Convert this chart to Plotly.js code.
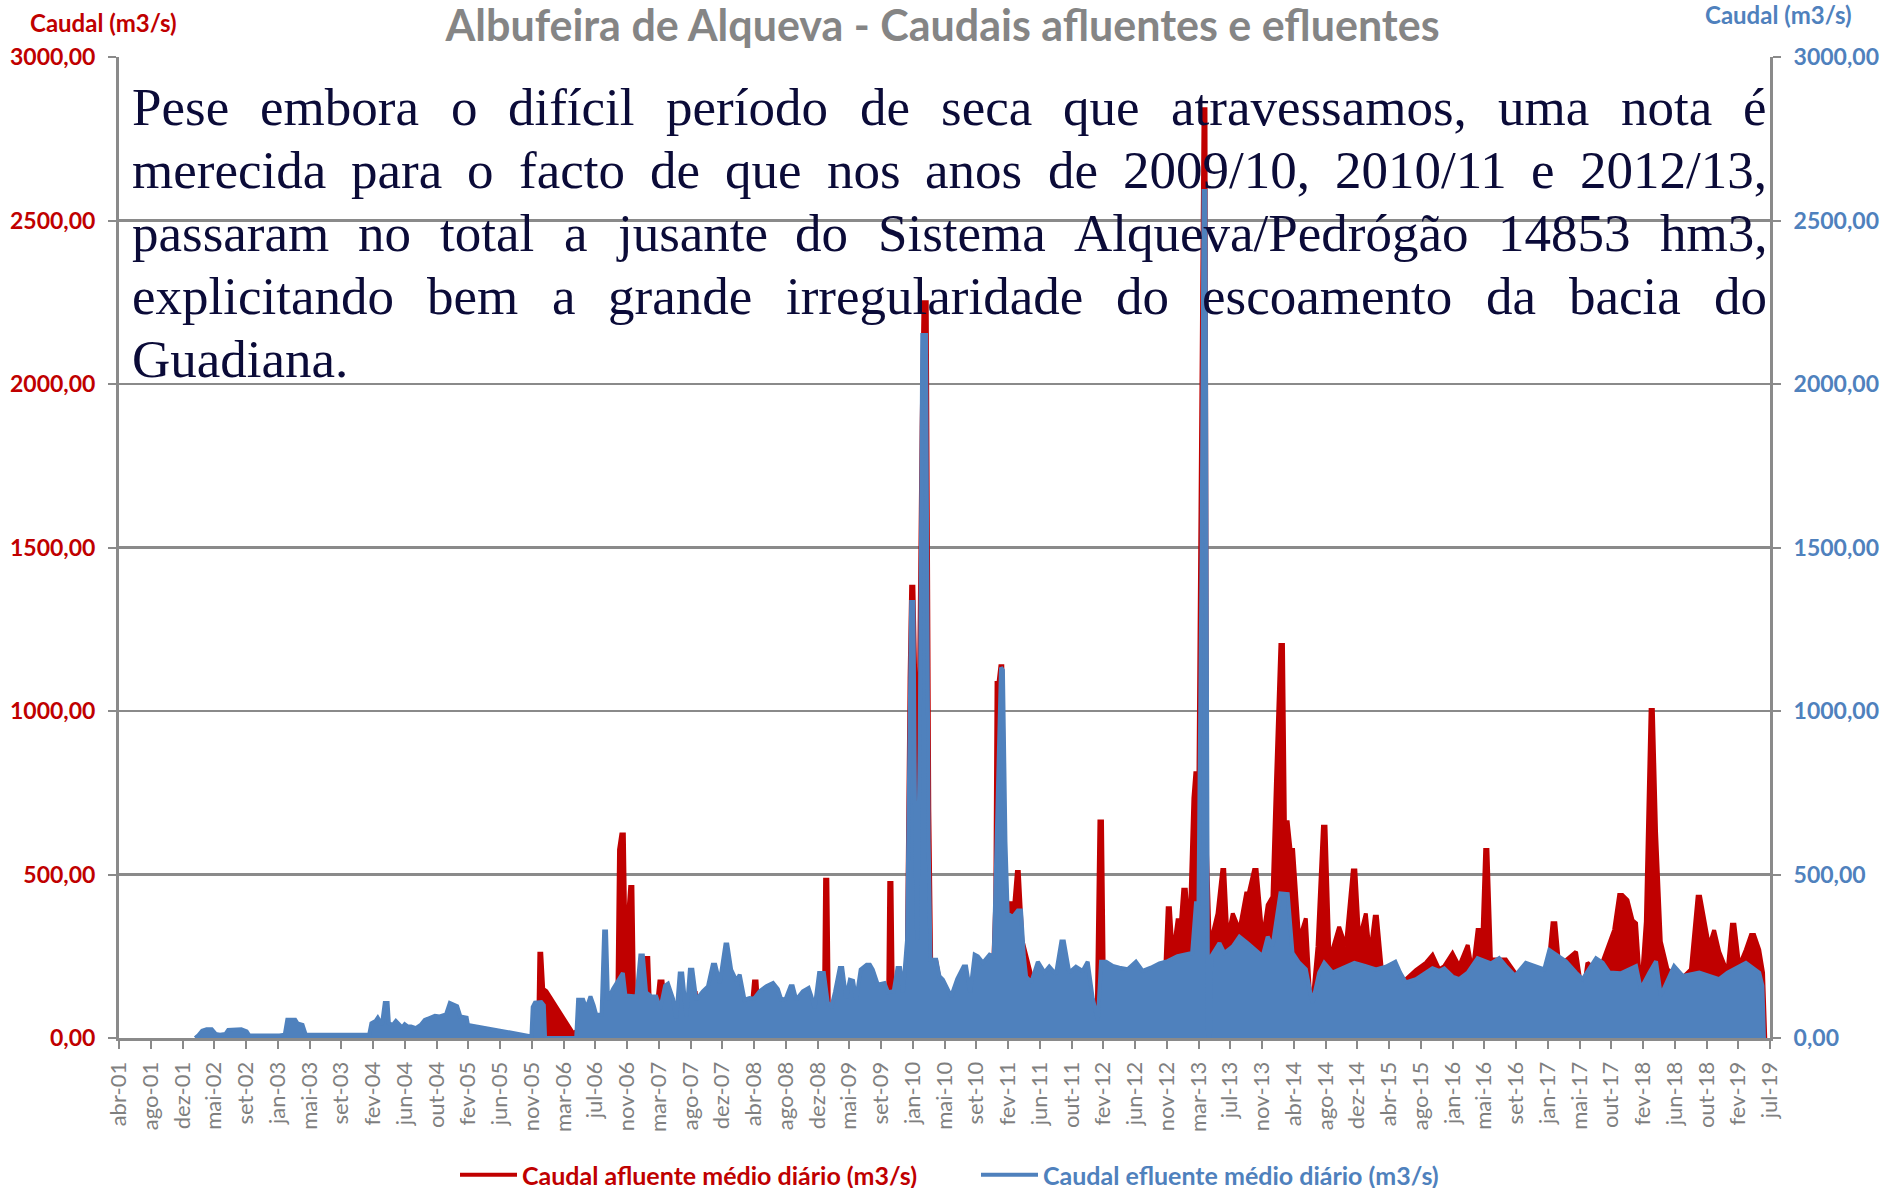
<!DOCTYPE html>
<html><head><meta charset="utf-8">
<script src="https://cdn.plot.ly/plotly-3.0.1.min.js"></script>
<style>html,body{margin:0;padding:0;background:#fff}#chart{width:1885px;height:1188px}</style>
</head><body><div id="chart"></div>
<script>
// Tick labels of the category axis (one label every fixed number of daily records)
const rotulosX = ["abr-01","ago-01","dez-01","mai-02","set-02","jan-03","mai-03","set-03","fev-04","jun-04",
  "out-04","fev-05","jun-05","nov-05","mar-06","jul-06","nov-06","mar-07","ago-07","dez-07",
  "abr-08","ago-08","dez-08","mai-09","set-09","jan-10","mai-10","set-10","fev-11","jun-11",
  "out-11","fev-12","jun-12","nov-12","mar-13","jul-13","nov-13","abr-14","ago-14","dez-14",
  "abr-15","ago-15","jan-16","mai-16","set-16","jan-17","mai-17","out-17","fev-18","jun-18",
  "out-18","fev-19","jul-19"];

// Position along the record axis (in label intervals) and daily inflow (m3/s)
const xAfluente = [
  2.40,2.80,2.90,3.55,3.65,5.45,5.75,5.90,8.10,9.00,
  10.99,12.99,13.20,13.24,13.30,13.36,13.46,14.30,14.60,15.00,
  15.40,15.70,15.75,15.82,15.90,15.95,16.02,16.10,16.17,16.22,
  16.55,16.60,16.67,16.72,16.95,17.02,17.12,17.20,18.10,18.16,
  18.22,19.90,20.00,20.08,20.15,22.20,22.24,22.31,22.36,24.22,
  24.26,24.33,24.38,24.80,24.85,24.90,24.95,25.02,25.10,25.20,
  25.28,25.34,25.44,25.52,25.58,25.74,25.84,26.00,27.50,27.60,
  27.64,27.70,27.76,27.82,27.90,27.99,28.08,28.20,28.28,28.34,
  28.45,28.73,28.90,30.80,30.88,30.96,31.02,32.95,33.03,33.10,
  33.19,33.34,33.45,33.52,33.60,33.71,33.84,33.90,34.00,34.10,
  34.16,34.22,34.27,34.35,34.45,34.60,34.75,34.81,34.90,34.97,
  35.08,35.29,35.50,35.58,35.75,35.83,36.02,36.18,36.33,36.44,
  36.58,36.66,36.72,36.81,36.90,36.98,37.17,37.38,37.50,37.59,
  37.75,37.92,38.00,38.12,38.22,38.43,38.64,38.86,38.94,39.06,
  39.27,39.40,39.55,39.62,39.80,40.20,40.53,40.85,41.16,41.37,
  41.58,41.74,42.00,42.21,42.48,42.63,42.79,42.95,43.03,43.10,
  43.21,43.68,43.97,44.50,45.00,45.15,45.24,45.36,45.89,46.10,
  46.25,46.60,47.09,47.25,47.35,47.51,47.67,47.78,47.93,48.09,
  48.24,48.31,48.41,48.56,48.77,49.20,49.51,49.72,49.80,49.93,
  50.08,50.24,50.40,50.66,50.80,50.88,51.03,51.24,51.40,51.50,
  51.66,51.78,51.82,51.85];
const afluente = [
  0,8,0,8,0,5,5,0,3,3,
  3,3,5,258,258,150,143,15,30,40,
  60,150,576,622,622,300,352,462,462,127,
  120,245,245,100,105,173,173,60,60,143,
  90,60,173,173,60,60,484,484,60,60,
  474,474,60,100,768,1098,1380,1380,1000,1100,
  1868,2250,2250,700,227,235,180,100,120,415,
  1086,1086,1137,1137,500,400,412,412,508,508,
  300,193,150,100,662,662,150,200,397,397,
  250,360,360,453,453,300,733,810,810,2000,
  2840,2840,560,300,320,381,514,514,330,330,
  381,330,442,442,514,514,300,407,432,784,
  1202,1202,660,660,575,575,300,366,150,106,
  280,646,646,260,270,340,280,512,512,300,
  381,250,371,371,180,150,180,208,230,254,
  210,220,259,220,284,200,330,330,575,575,
  240,240,200,180,200,351,351,220,264,125,
  230,200,330,437,437,422,360,351,130,356,
  1003,1003,631,295,210,180,210,432,432,361,
  280,330,264,200,346,346,220,270,315,315,
  270,200,20,0];

// Position along the record axis and daily outflow (m3/s)
const xEfluente = [
  2.40,2.50,2.62,2.76,2.92,3.05,3.18,3.35,3.44,3.70,
  3.85,4.02,4.10,5.05,5.22,5.30,5.55,5.62,5.78,5.88,
  7.88,7.95,8.08,8.15,8.28,8.37,8.46,8.50,8.62,8.72,
  8.80,8.92,9.00,9.10,9.20,9.35,9.50,9.63,9.80,9.95,
  10.10,10.30,10.42,10.55,10.65,10.75,10.95,10.99,12.99,13.03,
  13.10,13.30,13.38,13.42,14.40,14.46,14.62,14.72,14.85,14.95,
  15.03,15.20,15.28,15.34,15.40,15.56,15.72,15.87,15.95,16.10,
  16.30,16.42,16.50,16.60,16.77,16.92,17.05,17.20,17.29,17.45,
  17.55,17.66,17.74,17.87,17.98,18.06,18.18,18.39,18.55,18.70,
  18.78,18.92,19.10,19.16,19.28,19.45,19.55,19.70,19.86,20.00,
  20.18,20.39,20.60,20.75,20.86,21.00,21.15,21.22,21.33,21.54,
  21.72,21.80,21.91,22.05,22.20,22.32,22.43,22.55,22.70,22.78,
  22.90,23.02,23.12,23.22,23.36,23.55,23.65,23.74,23.90,24.11,
  24.22,24.40,24.52,24.60,24.69,24.82,24.95,25.02,25.08,25.14,
  25.22,25.30,25.42,25.50,25.56,25.74,25.84,25.95,26.10,26.21,
  26.40,26.60,26.68,26.81,26.95,27.05,27.21,27.42,27.55,27.70,
  27.78,27.84,27.92,27.99,28.15,28.31,28.41,28.50,28.57,28.73,
  28.94,29.15,29.30,29.51,29.68,29.76,29.93,30.14,30.35,30.51,
  30.67,30.83,30.93,31.09,31.30,31.51,31.77,32.03,32.24,32.50,
  32.77,33.03,33.34,33.55,33.80,33.92,34.00,34.10,34.16,34.22,
  34.27,34.30,34.36,34.40,34.66,34.81,35.08,35.29,35.55,35.81,
  36.02,36.18,36.33,36.58,36.70,36.81,36.96,37.17,37.38,37.59,
  37.80,37.96,38.22,38.43,38.64,38.91,39.27,39.59,39.90,40.20,
  40.35,40.53,40.85,41.16,41.37,41.58,41.74,42.00,42.21,42.48,
  42.63,42.79,43.21,43.47,43.68,43.97,44.31,44.63,44.89,45.05,
  45.36,45.57,45.89,46.10,46.52,46.73,46.94,47.30,47.78,47.93,
  48.20,48.41,48.56,48.98,49.25,49.77,50.40,50.66,51.24,51.66,
  51.76,51.81];
const efluente = [
  0,8,22,27,27,12,10,12,25,25,
  27,20,8,8,10,56,56,45,40,10,
  10,45,52,62,40,107,107,45,40,52,
  45,32,42,35,35,30,40,55,62,68,
  66,72,107,100,97,66,62,40,5,95,
  108,110,100,0,0,117,117,90,127,100,
  71,71,326,326,117,150,178,199,130,130,
  127,252,252,140,127,127,90,160,166,120,
  61,197,197,66,209,209,117,143,158,224,
  224,168,286,286,209,175,194,117,122,120,
  143,158,168,150,117,120,158,158,117,143,
  153,130,92,199,199,110,92,140,214,214,
  122,178,175,117,209,224,224,209,163,168,
  140,143,214,214,140,300,1333,1333,600,300,
  900,2150,2150,600,239,239,189,178,150,127,
  180,219,219,140,255,250,230,255,250,900,
  1133,1125,600,380,370,390,390,250,188,170,
  233,200,218,195,295,295,200,218,205,233,
  120,55,233,233,220,215,210,233,205,215,
  228,235,250,255,260,412,412,1500,2590,2590,
  300,0,0,250,290,260,280,310,290,270,
  250,310,280,442,442,440,260,230,210,106,
  200,230,200,210,220,230,220,210,218,233,
  200,170,180,200,213,205,213,188,180,200,
  220,244,228,244,220,190,230,218,210,269,
  250,235,200,180,244,230,200,198,220,150,
  200,235,130,220,190,200,180,200,230,200,
  160,0];

// Stretches without records (joined by a straight line in the source chart, not filled)
const lacunasAfluente = [[10.99, 12.99], [13.46, 14.30]];
const lacunasEfluente = [[10.99, 12.99]];

const tituloGrafico = "Albufeira de Alqueva - Caudais afluentes e efluentes";
const nomeAfluente = "Caudal afluente médio diário (m3/s)";
const nomeEfluente = "Caudal efluente médio diário (m3/s)";
const tituloEixo = "Caudal (m3/s)";
const paragrafo = [
  "Pese embora o difícil período de seca que atravessamos, uma nota é",
  "merecida para o facto de que nos anos de 2009/10, 2010/11 e 2012/13,",
  "passaram no total a jusante do Sistema Alqueva/Pedrógão 14853 hm3,",
  "explicitando bem a grande irregularidade do escoamento da bacia do",
  "Guadiana."
];

const VERMELHO = "#C00000", AZUL = "#4F81BD", CINZA = "#8a8a8a";

function comLacunas(xs, ys, lacunas) {
  const fx = [], fy = [];
  for (let i = 0; i < xs.length; i++) {
    fx.push(xs[i]); fy.push(ys[i]);
    if (i < xs.length - 1 && lacunas.some(l => l[0] === xs[i] && l[1] === xs[i + 1])) {
      fx.push((xs[i] + xs[i + 1]) / 2); fy.push(null);
    }
  }
  return {fx, fy};
}
const fa = comLacunas(xAfluente, afluente, lacunasAfluente);
const fe = comLacunas(xEfluente, efluente, lacunasEfluente);

const traces = [
  {x: fa.fx, y: fa.fy, type: "scatter", mode: "lines", fill: "tozeroy", fillcolor: VERMELHO,
   line: {width: 0, color: VERMELHO}, connectgaps: false, showlegend: false, hoverinfo: "skip", yaxis: "y"},
  {x: xAfluente, y: afluente, type: "scatter", mode: "lines", line: {width: 4, color: VERMELHO},
   name: '<span style="color:' + VERMELHO + '">' + nomeAfluente + '</span>', yaxis: "y"},
  {x: fe.fx, y: fe.fy, type: "scatter", mode: "lines", fill: "tozeroy", fillcolor: AZUL,
   line: {width: 0, color: AZUL}, connectgaps: false, showlegend: false, hoverinfo: "skip", yaxis: "y2"},
  {x: xEfluente, y: efluente, type: "scatter", mode: "lines", line: {width: 4, color: AZUL},
   name: '<span style="color:' + AZUL + '">' + nomeEfluente + '</span>', yaxis: "y2"}
];

const M = {l: 119, r: 115, t: 57, b: 150, autoexpand: false};
const PW = 1885 - M.l - M.r, PH = 1188 - M.t - M.b;
const annotations = [
  {text: tituloEixo, xref: "paper", yref: "paper", x: 0, y: 1, xanchor: "left", yanchor: "middle",
   xshift: -91, yshift: 35, showarrow: false, font: {family: "Lato", size: 24, color: VERMELHO, weight: "bold"}},
  {text: tituloEixo, xref: "paper", yref: "paper", x: 1, y: 1, xanchor: "left", yanchor: "middle",
   xshift: -67, yshift: 43, showarrow: false, font: {family: "Lato", size: 24, color: AZUL, weight: "bold"}}
];

// Justified paragraph over the chart
const ctx = document.createElement("canvas").getContext("2d");
const FS = 53;
ctx.font = FS + 'px "Liberation Serif"';
const largura = 1635, esquerda = 13;
paragrafo.forEach((linha, li) => {
  const palavras = linha.split(" ");
  const w = palavras.map(p => ctx.measureText(p).width);
  const total = w.reduce((a, b) => a + b, 0);
  const ultima = li === paragrafo.length - 1;
  const esp = ultima ? ctx.measureText(" ").width : (largura - total) / (palavras.length - 1);
  let pos = esquerda;
  palavras.forEach((p, k) => {
    annotations.push({text: p, xref: "paper", yref: "paper", x: 0, y: 1, xanchor: "left", yanchor: "middle",
      xshift: pos - 2, yshift: -(50 + li * 63), showarrow: false,
      font: {family: "Liberation Serif", size: FS, color: "#0b0b38"}});
    pos += w[k] + esp;
  });
});

const eixoY = {
  range: [0, 3000], dtick: 500, tick0: 0, tickformat: ".2f", ticks: "outside", ticklen: 8, tickwidth: 2,
  tickcolor: CINZA, showline: true, linecolor: CINZA, linewidth: 3, zeroline: false, fixedrange: true,
  ticklabelstandoff: 8
};

const layout = {
  width: 1885, height: 1188, margin: M, paper_bgcolor: "#fff", plot_bgcolor: "#fff",
  separators: ",.",
  title: {text: tituloGrafico, x: 0.5, xref: "container", xanchor: "center", y: 1 - 26 / 1188, yref: "container",
    yanchor: "middle", font: {family: "Lato", size: 43, color: "#858585", weight: "bold"}},
  xaxis: {range: [0, 52], tickvals: rotulosX.map((_, i) => i), ticktext: rotulosX, tickangle: -90,
    ticks: "outside", ticklen: 8, tickwidth: 2, tickcolor: CINZA, showgrid: false, showline: true,
    linecolor: CINZA, linewidth: 3, zeroline: false, ticklabelstandoff: 4,
    tickfont: {family: "Lato", size: 22, color: "#7f7f7f"}},
  yaxis: Object.assign({}, eixoY, {showgrid: true, gridcolor: CINZA, gridwidth: 2.5,
    tickfont: {family: "Lato", size: 23, color: VERMELHO, weight: "bold"}}),
  yaxis2: Object.assign({}, eixoY, {overlaying: "y", side: "right", showgrid: false,
    tickfont: {family: "Lato", size: 23, color: AZUL, weight: "bold"}}),
  showlegend: true,
  legend: {orientation: "h", x: (455 - M.l) / PW, xanchor: "left", y: -(1175 - 1038) / PH,
    yanchor: "middle", font: {family: "Lato", size: 25, weight: "bold"}, entrywidth: 449, entrywidthmode: "pixels",
    itemwidth: 57, bgcolor: "rgba(0,0,0,0)"},
  annotations: annotations
};

Plotly.newPlot("chart", traces, layout, {displayModeBar: false, responsive: false, staticPlot: true});
</script></body></html>
